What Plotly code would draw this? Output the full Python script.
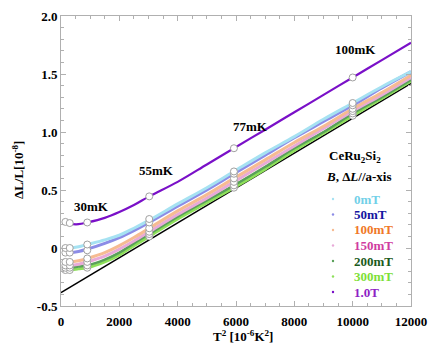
import plotly.graph_objects as go

# ---------------- data ----------------
T2_grid = [150, 300, 600, 900, 1500, 2000, 2500, 3025, 4000, 5000, 5929, 7000, 8000, 9000, 10000, 11000, 12000]
T2_points = [150, 300, 900, 3025, 5929, 10000]

series_names = ["0mT", "50mT", "100mT", "150mT", "200mT", "300mT", "1.0T"]

curve_0mT   = [0.00, 0.00, 0.01, 0.03, 0.07, 0.11, 0.17, 0.24, 0.38, 0.52, 0.66, 0.82, 0.96, 1.11, 1.25, 1.39, 1.52]
curve_50mT  = [-0.04, -0.04, -0.03, -0.01, 0.04, 0.09, 0.15, 0.22, 0.36, 0.50, 0.64, 0.80, 0.95, 1.09, 1.23, 1.38, 1.52]
curve_100mT = [-0.12, -0.12, -0.11, -0.09, -0.04, 0.02, 0.09, 0.17, 0.32, 0.46, 0.60, 0.76, 0.91, 1.05, 1.20, 1.34, 1.49]
curve_150mT = [-0.15, -0.15, -0.14, -0.12, -0.07, -0.01, 0.06, 0.14, 0.29, 0.43, 0.57, 0.73, 0.88, 1.03, 1.18, 1.32, 1.47]
curve_200mT = [-0.17, -0.17, -0.16, -0.15, -0.10, -0.04, 0.04, 0.12, 0.27, 0.41, 0.54, 0.70, 0.86, 1.00, 1.16, 1.30, 1.45]
curve_300mT = [-0.19, -0.19, -0.18, -0.17, -0.12, -0.06, 0.02, 0.10, 0.25, 0.39, 0.52, 0.68, 0.84, 0.99, 1.14, 1.29, 1.44]
curve_1T    = [0.225, 0.21, 0.205, 0.22, 0.26, 0.31, 0.37, 0.445, 0.57, 0.72, 0.86, 1.02, 1.17, 1.32, 1.47, 1.62, 1.77]

pts_0mT   = [0.00, 0.00, 0.03, 0.25, 0.66, 1.25]
pts_50mT  = [-0.04, -0.04, -0.02, 0.22, 0.64, 1.23]
pts_100mT = [-0.12, -0.12, -0.09, 0.17, 0.60, 1.20]
pts_150mT = [-0.15, -0.15, -0.12, 0.14, 0.57, 1.18]
pts_200mT = [-0.17, -0.17, -0.15, 0.12, 0.54, 1.16]
pts_300mT = [-0.19, -0.19, -0.17, 0.10, 0.52, 1.14]
pts_1T    = [0.225, 0.215, 0.22, 0.445, 0.86, 1.47]

line_T2 = [0, 12000]
line_val = [-0.385, 1.42]

temp_labels = ["30mK", "55mK", "77mK", "100mK"]
temp_label_x = [1060, 3290, 6500, 10080]
temp_label_y = [0.36, 0.67, 1.05, 1.71]

x_tickvals = [0, 2000, 4000, 6000, 8000, 10000, 12000]
y_tickvals = [-0.5, 0, 0.5, 1.0, 1.5, 2.0]
y_ticktext = ["-0.5", "0", "0.5", "1.0", "1.5", "2.0"]

# ---------------- styles ----------------
curves = [curve_0mT, curve_50mT, curve_100mT, curve_150mT, curve_200mT, curve_300mT, curve_1T]
points = [pts_0mT, pts_50mT, pts_100mT, pts_150mT, pts_200mT, pts_300mT, pts_1T]
line_colors = ["#a6e2f2", "#8c8ce6", "#f6bb92", "#e8aad8", "#5aa05a", "#8ee05a", "#7a10c8"]
text_colors = ["#72d0e8", "#1414a0", "#f07828", "#d03ca0", "#1c5a1c", "#7ee038", "#8e22c4"]
line_widths = [3, 3, 3, 3, 2.5, 3, 2.2]
FONT = "Liberation Serif"

fig = go.Figure()

fig.add_trace(go.Scatter(x=line_T2, y=line_val, mode="lines",
                         line=dict(color="black", width=1.5), showlegend=False))

order = [5, 4, 3, 2, 1, 0, 6]
for i in order:
    fig.add_trace(go.Scatter(x=T2_grid, y=curves[i], mode="lines", line_shape="spline",
                             line=dict(color=line_colors[i], width=line_widths[i]),
                             showlegend=False))
for i in order:
    fig.add_trace(go.Scatter(x=T2_points, y=points[i], mode="markers",
                             marker=dict(size=7, color="white",
                                         line=dict(color="#a0a0a0", width=1)),
                             showlegend=False))

annotations = []
for t, x, y in zip(temp_labels, temp_label_x, temp_label_y):
    annotations.append(dict(x=x, y=y, xref="x", yref="y", text=f"<b>{t}</b>",
                            showarrow=False, font=dict(family=FONT, size=13, color="black")))

def px2paper_x(px):
    return (px - 61) / 350.0

def px2paper_y(py):
    return (306 - py) / 290.0

annotations.append(dict(x=px2paper_x(327), y=px2paper_y(156), xref="paper", yref="paper",
                        xanchor="left", yanchor="middle", showarrow=False,
                        text="<b>CeRu<sub>2</sub>Si<sub>2</sub></b>",
                        font=dict(family=FONT, size=13, color="black")))
annotations.append(dict(x=px2paper_x(324), y=px2paper_y(176), xref="paper", yref="paper",
                        xanchor="left", yanchor="middle", showarrow=False,
                        text="<b><i>B</i>, Δ<i>L</i>//a-xis</b>",
                        font=dict(family=FONT, size=13, color="black")))

# axis titles placed explicitly
annotations.append(dict(x=px2paper_x(243), y=px2paper_y(346), xref="paper", yref="paper",
                        xanchor="center", yanchor="bottom", showarrow=False,
                        text="<b>T<sup>2</sup> [10<sup>-6</sup>K<sup>2</sup>]</b>",
                        font=dict(family=FONT, size=13, color="black")))
annotations.append(dict(x=px2paper_x(18), y=px2paper_y(170), xref="paper", yref="paper",
                        xanchor="center", yanchor="middle", showarrow=False, textangle=-90,
                        text="<b>ΔL/L[10<sup>-8</sup>]</b>",
                        font=dict(family=FONT, size=13, color="black")))

shapes = []
leg_y0 = 199
leg_dy = 15.5
for k, name in enumerate(series_names):
    py = leg_y0 + k * leg_dy
    annotations.append(dict(x=px2paper_x(352), y=px2paper_y(py), xref="paper", yref="paper",
                            xanchor="left", yanchor="middle", showarrow=False,
                            text=f"<b>{name}</b>",
                            font=dict(family=FONT, size=13, color=text_colors[k])))
    cx, cy = px2paper_x(333), px2paper_y(py)
    shapes.append(dict(type="circle", xref="paper", yref="paper",
                       x0=cx - 1.2 / 350, x1=cx + 1.2 / 350,
                       y0=cy - 1.2 / 290, y1=cy + 1.2 / 290,
                       fillcolor=line_colors[k], line=dict(width=0)))

axis_common = dict(showline=True, linecolor="#b0b0b0", linewidth=1, mirror="ticks",
                   ticks="inside", ticklen=5, tickcolor="#b0b0b0", showgrid=False,
                   zeroline=False, automargin=False,
                   tickfont=dict(family=FONT, size=13, color="black"))

fig.update_layout(
    width=429, height=346,
    margin=dict(l=61, r=18, t=16, b=40),
    paper_bgcolor="white", plot_bgcolor="white",
    showlegend=False,
    annotations=annotations,
    shapes=shapes,
    xaxis=dict(range=[0, 12000], tickvals=x_tickvals,
               ticktext=[f"<b>{v}</b>" for v in x_tickvals],
               ticklabelstandoff=3,
               minor=dict(dtick=500, ticklen=3, ticks="inside", tickcolor="#b0b0b0", showgrid=False),
               **axis_common),
    yaxis=dict(range=[-0.5, 2.0], tickvals=y_tickvals,
               ticktext=[f"<b>{t}</b>" for t in y_ticktext],
               minor=dict(dtick=0.1, ticklen=3, ticks="inside", tickcolor="#b0b0b0", showgrid=False),
               **axis_common),
)

fig.write_html("out.html")
